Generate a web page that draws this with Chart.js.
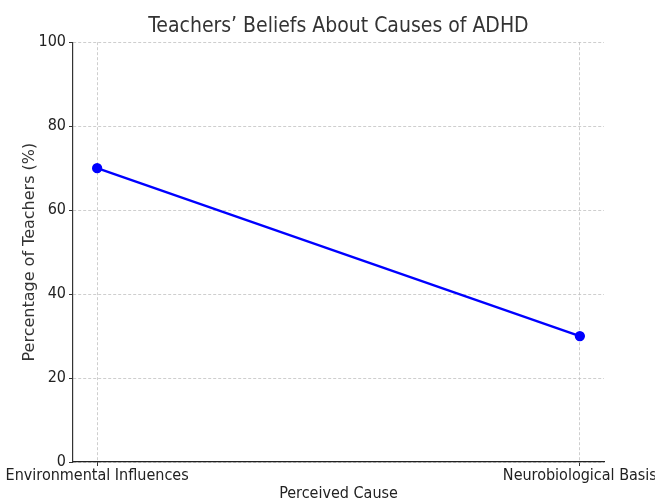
<!DOCTYPE html>
<html>
<head>
<meta charset="utf-8">
<script src="https://cdn.jsdelivr.net/npm/chart.js@4"></script>
<style>
  html, body { margin: 0; padding: 0; background: #fff; }
  #wrap { width: 655px; height: 503px; }
</style>
</head>
<body>
<div id="wrap"><canvas id="chart"></canvas></div>
<script>
// Data
const categories = ["Environmental Influences", "Neurobiological Basis"];
const percentages = [70, 30];
const yTicks = [0, 20, 40, 60, 80, 100];

const NARROW = "'DejaVu Sans Condensed', 'Liberation Sans Narrow', 'DejaVu Sans', sans-serif";
const gridColor = "rgba(190,190,190,0.75)";

const points = categories.map((c, i) => ({ x: i, y: percentages[i] }));

new Chart(document.getElementById("chart"), {
  type: "line",
  data: {
    datasets: [
      {
        data: points,
        borderColor: "#0000ff",
        backgroundColor: "#0000ff",
        borderWidth: 2.3,
        pointRadius: 4,
        pointHoverRadius: 4,
        tension: 0,
      },
    ],
  },
  options: {
    responsive: true,
    maintainAspectRatio: false,
    animation: false,
    layout: { padding: { right: 51 } },
    plugins: {
      legend: { display: false },
      tooltip: { enabled: false },
      title: {
        display: true,
        fullSize: false,
        text: "Teachers\u2019 Beliefs About Causes of ADHD",
        color: "#333",
        font: { family: NARROW, size: 21, weight: "normal" },
        padding: { top: 14, bottom: 3 },
      },
    },
    scales: {
      x: {
        type: "linear",
        min: -0.05,
        max: 1.05,
        afterBuildTicks: (scale) => {
          scale.ticks = categories.map((c, i) => ({ value: i }));
        },
        ticks: {
          color: "#222",
          font: { family: NARROW, size: 16 },
          padding: 0,
          maxRotation: 0,
          callback: (v) => categories[v],
        },
        grid: {
          color: gridColor,
          tickColor: "#333",
          tickLength: 4,
        },
        border: { display: true, color: "#222", width: 1.2, dash: [3, 2] },
        title: {
          display: true,
          text: "Perceived Cause",
          color: "#222",
          font: { family: NARROW, size: 16 },
          padding: { top: 6, bottom: 0 },
        },
        afterFit: (scale) => {
          scale.height = 41;
          scale.paddingLeft = 0;
          scale.paddingRight = 0;
        },
      },
      y: {
        min: 0,
        max: 100,
        afterBuildTicks: (scale) => {
          scale.ticks = yTicks.map((v) => ({ value: v }));
        },
        ticks: {
          color: "#222",
          font: { family: NARROW, size: 16 },
          padding: 3,
        },
        grid: {
          color: gridColor,
          tickColor: "#333",
          tickLength: 4,
        },
        border: { display: true, color: "#333", width: 1.2, dash: [3, 2] },
        title: {
          display: true,
          text: "Percentage of Teachers (%)",
          color: "#333",
          font: { family: "'DejaVu Sans', sans-serif", size: 16 },
          padding: { top: 20, bottom: 4 },
        },
        afterFit: (scale) => {
          scale.width = 73;
        },
      },
    },
  },
});
</script>
</body>
</html>
